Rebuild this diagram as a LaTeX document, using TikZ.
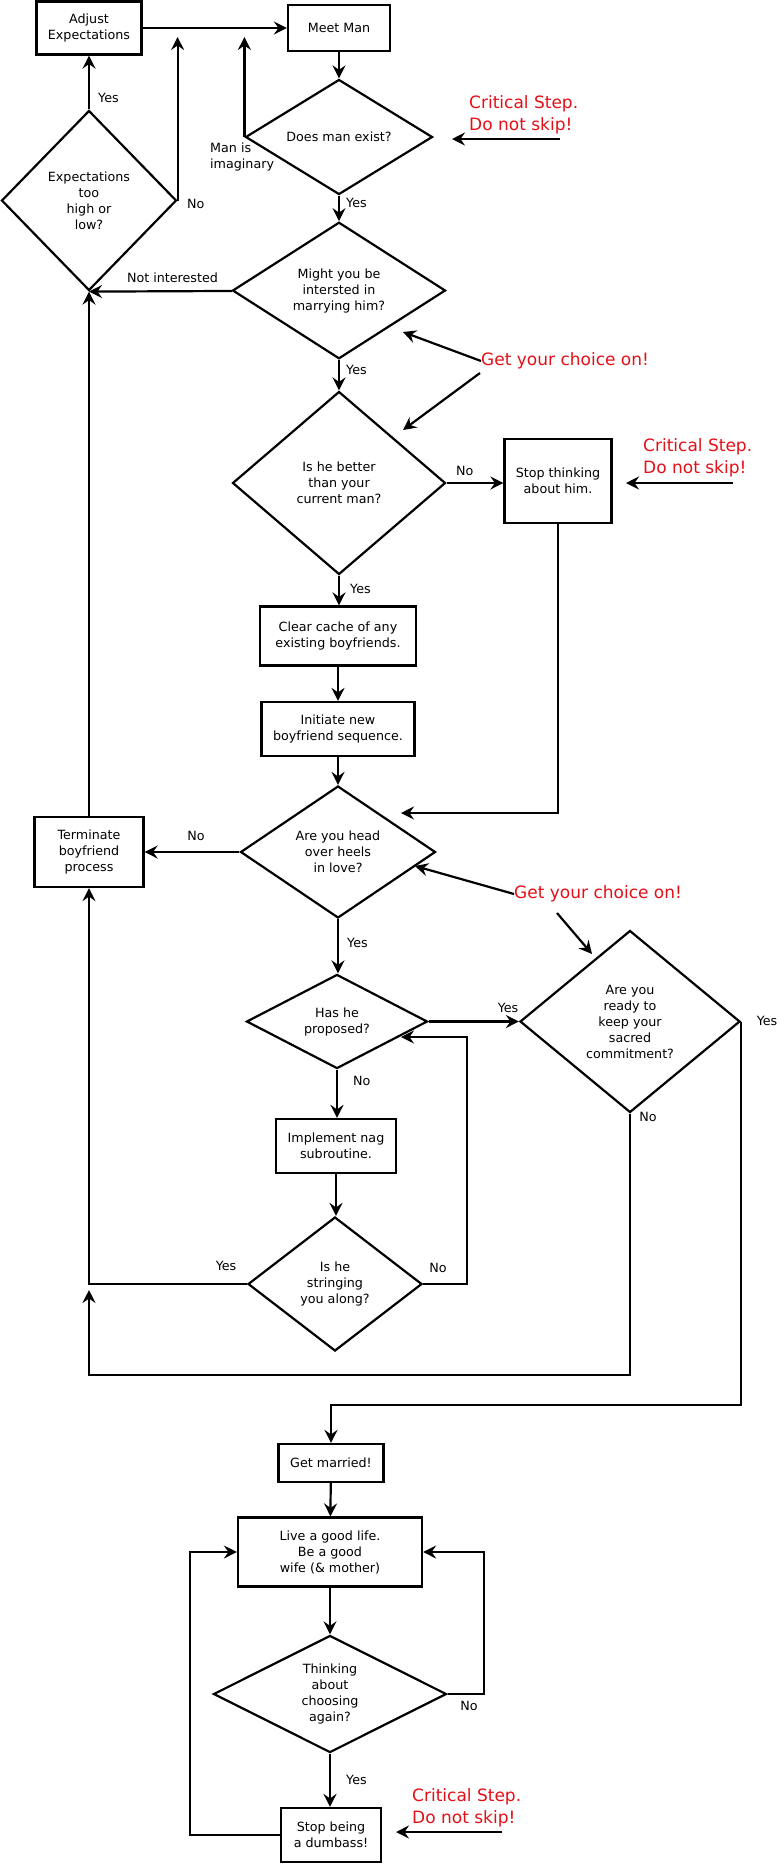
\documentclass[tikz,border=0pt]{standalone}
\usepackage{fontspec}
\setmainfont{DejaVu Sans}
\usetikzlibrary{shapes.geometric,arrows.meta}
\definecolor{annred}{RGB}{228,16,24}
\begin{document}
\begin{tikzpicture}[x=1pt,y=-1pt,
  base/.style={font=\fontsize{12.7}{16}\selectfont, align=center, inner sep=0pt},
  box/.style={base, draw, line width=2.2pt, rectangle},
  dec/.style={base, draw, line width=2.2pt, diamond},
  flow/.style={line width=2.2pt, -{Stealth[length=13pt,width=13pt,inset=4.5pt]}},
  lbl/.style={font=\fontsize{12.7}{16}\selectfont, inner sep=0pt, align=left},
  note/.style={text=annred, font=\fontsize{17}{22}\selectfont, align=left, inner sep=0pt}]
\useasboundingbox[fill=white] (0,0) rectangle (779,1864);

% nodes
\node[box, minimum width=105pt, minimum height=53pt] (adj) at (89,28) {Adjust\\Expectations};
\node[box, minimum width=102pt, minimum height=46pt] (meet) at (339,28) {Meet Man};
\node[dec, minimum width=187pt, minimum height=92pt] (exist) at (339,137) {Does man exist?};
\node[dec, minimum width=175pt, minimum height=180pt] (expq) at (89,200.5) {Expectations\\too\\high or\\low?};
\node[dec, minimum width=213pt, minimum height=130pt] (might) at (339,290.5) {Might you be\\intersted in\\marrying him?};
\node[dec, minimum width=213pt, minimum height=183pt] (better) at (339,483) {Is he better\\than your\\current man?};
\node[box, minimum width=107pt, minimum height=84pt] (stopthink) at (558,481) {Stop thinking\\about him.};
\node[box, minimum width=156pt, minimum height=59pt] (clear) at (338,636) {Clear cache of any\\existing boyfriends.};
\node[box, minimum width=153pt, minimum height=54pt] (init) at (338,729) {Initiate new\\boyfriend sequence.};
\node[dec, minimum width=195pt, minimum height=132pt] (heels) at (338,852) {Are you head\\over heels\\in love?};
\node[box, minimum width=109pt, minimum height=70pt] (term) at (89,852) {Terminate\\boyfriend\\process};
\node[dec, minimum width=181pt, minimum height=86pt] (proposed) at (337,1021.5) {Has he\\proposed?};
\node[dec, minimum width=220pt, minimum height=182pt] (ready) at (630,1021.5) {Are you\\ready to\\keep your\\sacred\\commitment?};
\node[box, minimum width=120pt, minimum height=54pt] (nag) at (336,1146) {Implement nag\\subroutine.};
\node[dec, minimum width=174pt, minimum height=134pt] (string) at (335,1284) {Is he\\stringing\\you along?};
\node[box, minimum width=105pt, minimum height=38pt] (married) at (331,1463) {Get married!};
\node[box, minimum width=184pt, minimum height=69pt] (live) at (330,1552) {Live a good life.\\Be a good\\wife (\& mother)};
\node[dec, minimum width=233pt, minimum height=116pt] (think) at (330,1694) {Thinking\\about\\choosing\\again?};
\node[box, minimum width=100pt, minimum height=54pt] (dumb) at (331,1835) {Stop being\\a dumbass!};

% free ends
\coordinate (imagtop) at (246,37);
\coordinate (noup) at (176.5,37);
\coordinate (heelsin) at (401,813);
\coordinate (propin) at (401,1037);
\coordinate (nobot) at (89,1290);

% connectors
\draw[flow] (adj) -- (meet);
\draw[flow] (meet) -- (exist);
\draw[flow] (exist.west) -- (exist.west |- imagtop);
\node[lbl, anchor=west] (limag) at (210,157) {Man is\\imaginary};
\draw[flow] (exist) -- (might);
\node[lbl, anchor=west] (lyes1) at (346,203) {Yes};
\draw[flow] (expq) -- (adj);
\node[lbl, anchor=west] (lyes2) at (98,98) {Yes};
\draw[flow] (expq.east) -- (expq.east |- noup);
\node[lbl, anchor=west] (lno1) at (187,204) {No};
\draw[flow] (might) -- (expq.south);
\node[lbl] (lnotint) at (172.5,278) {Not interested};
\draw[flow] (might) -- (better);
\node[lbl, anchor=west] (lyes3) at (346,370) {Yes};
\draw[flow] (better.east) -- (better.east -| stopthink.west);
\node[lbl, anchor=west] (lno2) at (456,471) {No};
\draw[flow] (stopthink.south) |- (heelsin);
\draw[flow] (better.south) -- (better.south |- clear.north);
\node[lbl, anchor=west] (lyes4) at (350,589) {Yes};
\draw[flow] (clear) -- (init);
\draw[flow] (init) -- (heels);
\draw[flow] (heels) -- (term);
\node[lbl] (lno3) at (196,836) {No};
\draw[flow] (term) -- (expq.south);
\draw[flow] (heels.south) -- (heels.south |- proposed.north);
\node[lbl, anchor=west] (lyes5) at (347,943) {Yes};
\draw[flow] (proposed) -- (ready);
\node[lbl] (lyes6) at (508,1008) {Yes};
\draw[flow] (ready.east) -- ++(0,383.5) -| (married.north);
\node[lbl] (lyes7) at (767,1021) {Yes};
\draw[flow] (ready.south) -- ++(0,261) -| (nobot);
\node[lbl] (lno4) at (648,1117) {No};
\draw[flow] (proposed.south) -- (proposed.south |- nag.north);
\node[lbl, anchor=west] (lno5) at (353,1081) {No};
\draw[flow] (nag.south) -- (nag.south |- string.north);
\draw[flow] (string.east) -- ++(43.5,0) |- (propin);
\node[lbl] (lno6) at (438,1268) {No};
\draw[flow] (string.west) -| (term.south);
\node[lbl] (lyes8) at (226,1266) {Yes};
\draw[flow] (married) -- (live);
\draw[flow] (live) -- (think);
\draw[flow] (think.east) -- ++(36.5,0) |- (live.east);
\node[lbl] (lno7) at (469,1706) {No};
\draw[flow] (think.south) -- (think.south |- dumb.north);
\node[lbl, anchor=west] (lyes9) at (346,1780) {Yes};
\draw[flow] (dumb.west) -- ++(-90,0) |- (live.west);

% annotations
\node[note, anchor=west] (crit1) at (469,115) {Critical Step.\\Do not skip!};
\coordinate (c1s) at (560,139); \coordinate (c1e) at (452,139);
\draw[flow] (c1s) -- (c1e);
\node[note, anchor=west] (gc1) at (481,361) {Get your choice on!};
\coordinate (g1a) at (403,332); \coordinate (g1bs) at (480,373); \coordinate (g1b) at (403,430);
\draw[flow] (gc1.west) -- (g1a);
\draw[flow] (g1bs) -- (g1b);
\node[note, anchor=west] (crit2) at (643,458) {Critical Step.\\Do not skip!};
\coordinate (c2s) at (733,483); \coordinate (c2e) at (626,483);
\draw[flow] (c2s) -- (c2e);
\node[note, anchor=west] (gc2) at (514,894) {Get your choice on!};
\coordinate (g2a) at (415,866); \coordinate (g2bs) at (557,913); \coordinate (g2b) at (592,954);
\draw[flow] (gc2.west) -- (g2a);
\draw[flow] (g2bs) -- (g2b);
\node[note, anchor=west] (crit3) at (412,1808) {Critical Step.\\Do not skip!};
\coordinate (c3s) at (502,1832); \coordinate (c3e) at (396,1832);
\draw[flow] (c3s) -- (c3e);
\end{tikzpicture}
\end{document}
